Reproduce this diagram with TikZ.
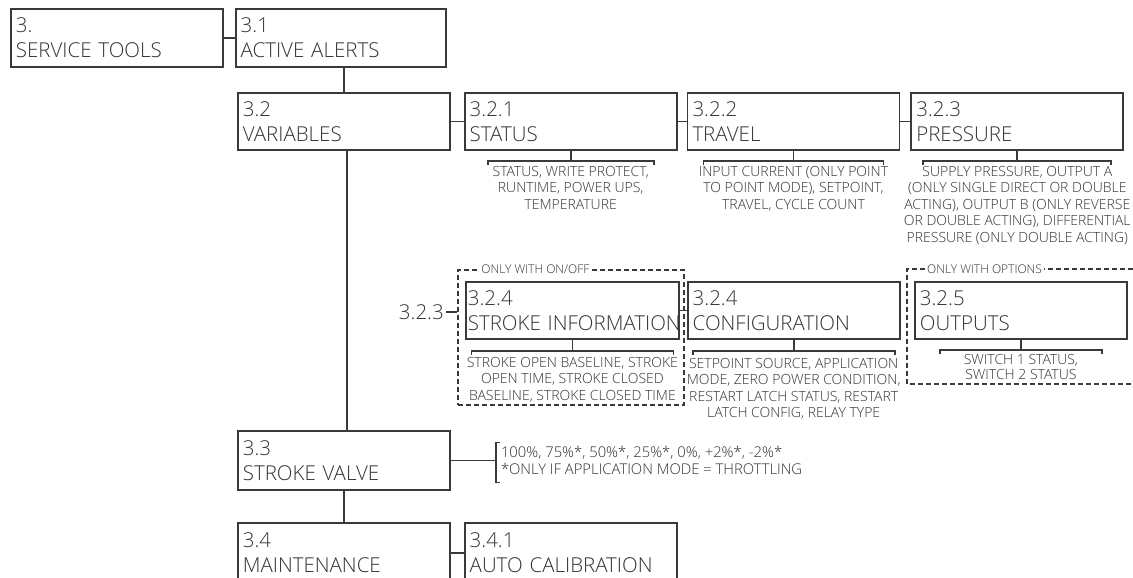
\documentclass[tikz,border=0pt]{standalone}
\usepackage{fontspec}
\IfFontExistsTF{Open Sans Light}{\setmainfont{Open Sans Light}}{\setmainfont{Open Sans}}
\usepackage{xcolor}
\definecolor{menugray}{RGB}{58,58,58}
\definecolor{textgray}{RGB}{50,50,50}
\usetikzlibrary{positioning, calc, fit}
\tikzset{
  menubox/.style={
    rectangle, draw=menugray, line width=1.8pt, text=textgray,
    minimum width=212pt, minimum height=58pt, text width=202pt,
    inner xsep=5pt, align=left,
    font=\fontsize{20.5}{25}\selectfont
  },
  info/.style={
    text=textgray, align=center, inner sep=0pt,
    font=\fontsize{14}{16.6}\selectfont
  },
  link/.style={draw=menugray, line width=1.8pt},
  frame/.style={draw=menugray, line width=1.5pt, dash pattern=on 5pt off 3pt},
  framelabel/.style={
    fill=white, text=textgray, inner xsep=2pt, inner ysep=0pt,
    font=\fontsize{12}{14}\selectfont
  },
}
% stem and bracket under a menu box
\newcommand{\infobar}[3]{%
  \draw [link] (#1.south) -- ++(0,#3) coordinate (#1bar);
  \draw [link] ($(#1bar)+(-#2,4)$) -- ++(0,-4) -- ++(2*#2,0) -- ++(0,4);
}

\begin{document}
\hyphenpenalty=10000
\exhyphenpenalty=10000
\begin{tikzpicture}[x=1pt, y=-1pt]
  \useasboundingbox[fill=white] (0,0) rectangle (1133,578);

  % optional groups
  \node (onoff) [frame, inner sep=0pt, fit={(458,270) (684,405)}] {};
  \node (onofflabel) [framelabel, anchor=west] at ($(onoff.north west)+(22,0)$) {ONLY WITH ON/OFF};
  \coordinate (optframe) at (907,269);
  \draw [frame] (1133,269) -| (907,384) -- (1133,384);
  \node (optlabel) [framelabel, anchor=west] at ($(optframe)+(18,0)$) {ONLY WITH OPTIONS};

  % menu boxes
  \node (svc)      [menubox, anchor=north west] at (10,8)      {3.\\SERVICE TOOLS};
  \node (alerts)   [menubox, minimum width=210pt, text width=200pt, right=11pt of svc] {3.1\\ACTIVE ALERTS};
  \node (vars)     [menubox, anchor=north west, minimum height=57pt] at (237,92) {3.2\\VARIABLES};
  \node (status)   [menubox, minimum height=57pt, right=13pt of vars]     {3.2.1\\STATUS};
  \node (travel)   [menubox, minimum height=57pt, right=9pt of status]    {3.2.2\\TRAVEL};
  \node (pressure) [menubox, minimum height=57pt, right=10pt of travel]   {3.2.3\\PRESSURE};
  \node (stroke)   [menubox, anchor=north west, minimum height=57pt, inner xsep=2pt, text width=209pt] at (465,281) {3.2.4\\STROKE~INFORMATION};
  \node (config)   [menubox, minimum height=57pt, right=7pt of stroke]    {3.2.4\\CONFIGURATION};
  \node (outputs)  [menubox, anchor=north west, minimum height=57pt] at (914,281) {3.2.5\\OUTPUTS};
  \node (valve)    [menubox, anchor=north west, minimum height=59pt] at (237,430) {3.3\\STROKE VALVE};
  \node (maint)    [menubox, anchor=north west, minimum height=60pt] at (237,522) {3.4\\MAINTENANCE};
  \node (autocal)  [menubox, minimum height=60pt, right=13pt of maint]  {3.4.1\\AUTO~CALIBRATION};

  \node (contlabel) [text=textgray, inner sep=2pt, anchor=east, font=\fontsize{20.5}{25}\selectfont] at (446,312) {3.2.3};

  % connectors
  \draw [link] (svc) -- (alerts);
  \draw [link] (vars.north) -- (vars.north |- alerts.south);
  \draw [link] (vars) -- (status);
  \draw [link] (status) -- (travel);
  \draw [link] (travel) -- (pressure);
  \draw [link] ($(vars.south)+(3,0)$) -- ($(vars.south |- valve.north)+(3,0)$);
  \draw [link] (valve.south) -- (maint.north);
  \draw [link] (maint) -- (autocal);
  \draw [link] (stroke) -- (config);
  \draw [link, line width=1.5pt] (contlabel.east) -- (contlabel.east -| onoff.west);

  % detail lists
  \infobar{status}{83}{10}
  \infobar{travel}{90}{10}
  \infobar{pressure}{94}{10}
  \infobar{stroke}{101}{11}
  \infobar{config}{101}{11}
  \infobar{outputs}{81}{10}

  \node (statusinfo)   [info, anchor=north] at ($(statusbar)+(0,5)$)   {STATUS, WRITE PROTECT,\\RUNTIME, POWER UPS,\\TEMPERATURE};
  \node (travelinfo)   [info, anchor=north] at ($(travelbar)+(0,5)$)   {INPUT CURRENT (ONLY POINT\\TO POINT MODE), SETPOINT,\\TRAVEL, CYCLE COUNT};
  \node (pressureinfo) [info, anchor=north] at ($(pressurebar)+(0,5)$) {SUPPLY PRESSURE, OUTPUT A\\(ONLY SINGLE DIRECT OR DOUBLE\\ACTING), OUTPUT B (ONLY REVERSE\\OR DOUBLE ACTING), DIFFERENTIAL\\PRESSURE (ONLY DOUBLE ACTING)};
  \node (strokeinfo)   [info, anchor=north] at ($(strokebar)+(0,6)$)   {STROKE OPEN BASELINE, STROKE\\OPEN TIME, STROKE CLOSED\\BASELINE, STROKE CLOSED TIME};
  \node (configinfo)   [info, anchor=north] at ($(configbar)+(0,7)$)   {SETPOINT SOURCE, APPLICATION\\MODE, ZERO POWER CONDITION,\\RESTART LATCH STATUS, RESTART\\LATCH CONFIG, RELAY TYPE};
  \node (outputsinfo)  [info, anchor=north, font=\fontsize{14}{15.8}\selectfont] at ($(outputsbar)+(0,4)$) {SWITCH 1 STATUS,\\SWITCH 2 STATUS};

  % stroke valve steps
  \coordinate (valvebrace) at ($(valve.east)+(45,0)$);
  \draw [link] (valve.east) -- (valvebrace);
  \draw [link] ($(valvebrace)+(4,-18)$) -- ++(-4,0) -- ++(0,40) -- ++(4,0);
  \node (valveinfo) [info, align=left, anchor=north west, font=\fontsize{14.8}{16.5}\selectfont] at ($(valvebrace)+(5,-14)$)
    {100\%, 75\%*, 50\%*, 25\%*, 0\%, +2\%*, -2\%*\\*ONLY IF APPLICATION MODE = THROTTLING};
\end{tikzpicture}
\end{document}
